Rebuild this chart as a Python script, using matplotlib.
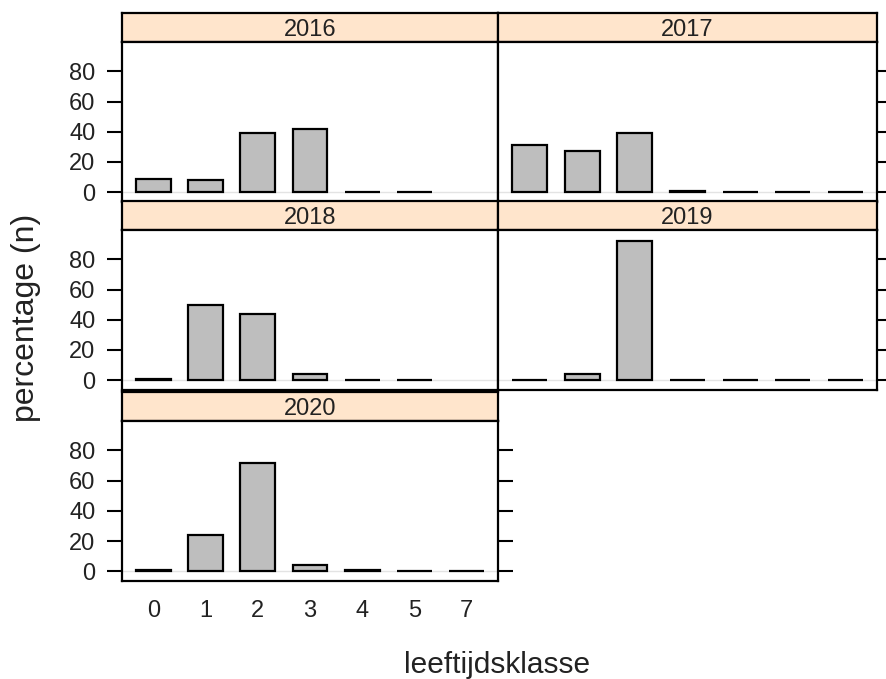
import matplotlib
matplotlib.use("Agg")
import matplotlib.pyplot as plt

plt.rcParams['font.family'] = ['Liberation Sans', 'DejaVu Sans']

# leeftijdsklassen (x categories) and percentages per jaar
ages = ['0', '1', '2', '3', '4', '5', '7']
years = ['2016', '2017', '2018', '2019', '2020']
pct_2016 = [9, 8, 39, 42, 0, 0]
pct_2017 = [31, 27, 39, 1, 0, 0, 0]
pct_2018 = [1, 50, 44, 4, 0, 0]
pct_2019 = [0, 4, 92, 0, 0, 0, 0]
pct_2020 = [1, 24, 72, 4, 1, 0, 0]
yticks = [0, 20, 40, 60, 80]

W, H = 886, 679
fig = plt.figure(figsize=(W / 100, H / 100), dpi=100)

def px(x0, y0, x1, y1):
    # pixel box (top-left origin) -> figure fraction
    return [x0 / W, 1 - y1 / H, (x1 - x0) / W, (y1 - y0) / H]

cols = [(122, 498), (498, 877)]
row_top = [13, 201, 392]
strip_h = 29
body_h = 160

series = [pct_2016, pct_2017, pct_2018, pct_2019, pct_2020]
layout = [(0, 0), (0, 1), (1, 0), (1, 1), (2, 0)]

for k, (yr, vals) in enumerate(zip(years, series)):
    r, c = layout[k]
    x0, x1 = cols[c]
    top = row_top[r]
    # strip
    sax = fig.add_axes(px(x0, top, x1, top + strip_h))
    sax.set_facecolor('#ffe5cc')
    sax.set_xticks([])
    sax.set_yticks([])
    for sp in sax.spines.values():
        sp.set_linewidth(1.6)
    sax.text(0.5, 0.42, yr, ha='center', va='center', fontsize=17,
             color='#222222', transform=sax.transAxes)

    # panel
    ax = fig.add_axes(px(x0, top + strip_h, x1, top + strip_h + body_h))
    pos = list(range(len(vals)))
    ax.axhline(0, color='#e3e3e3', lw=1, zorder=0)
    ax.bar(pos, vals, width=0.67, color='#bebebe', edgecolor='black',
           linewidth=1.6, zorder=2)
    ax.set_xlim(-0.6, 6.6)
    ax.set_ylim(-6.5, 99.5)
    for sp in ax.spines.values():
        sp.set_linewidth(1.6)

    ax.set_yticks(yticks)
    left = (c == 0)
    right = (c == 1) or (k == 4)
    ax.tick_params(axis='y', direction='out', length=11, width=1.5,
                   left=left, right=right, labelleft=left, labelright=False,
                   labelsize=17, pad=8, labelcolor='#222222')
    if k == 4:
        ax.set_xticks(range(len(ages)))
        ax.set_xticklabels(ages)
        ax.tick_params(axis='x', length=0, labelsize=17, pad=14,
                       labelcolor='#222222')
    else:
        ax.set_xticks([])

fig.text(497, H - 673, 'leeftijdsklasse', ha='center', va='baseline',
         fontsize=21.5, color='#222222', transform=None)
fig.text(26, H - 318, 'percentage (n)', ha='center', va='center',
         rotation=90, fontsize=23, color='#222222', transform=None)

fig.savefig('out.png', dpi=100)
